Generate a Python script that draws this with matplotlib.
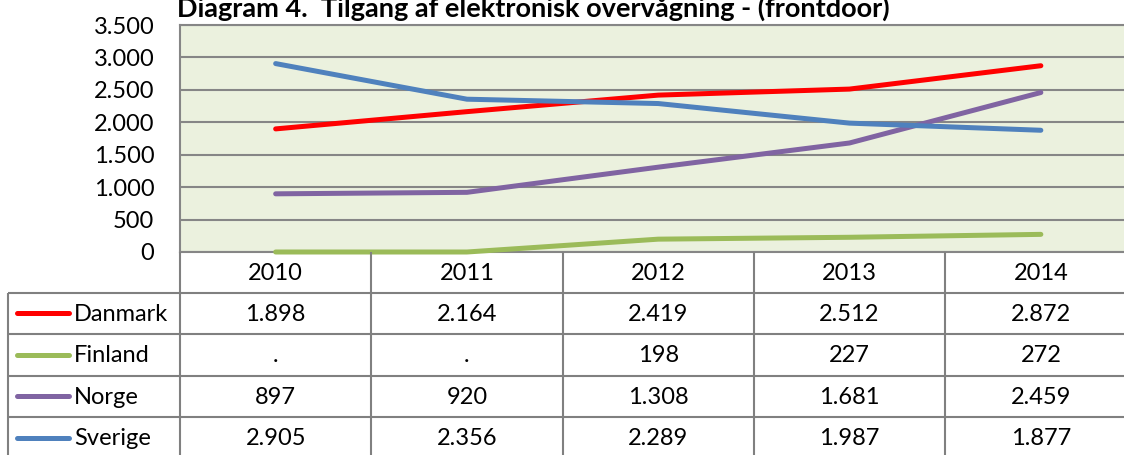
import numpy as np
import matplotlib
matplotlib.use("Agg")
import matplotlib.pyplot as plt

# --- data ---
years = ["2010", "2011", "2012", "2013", "2014"]
danmark = [1898, 2164, 2419, 2512, 2872]
finland = [np.nan, np.nan, 198, 227, 272]   # "." i tabellen, tegnes som 0
norge = [897, 920, 1308, 1681, 2459]
sverige = [2905, 2356, 2289, 1987, 1877]

series_names = ["Danmark", "Finland", "Norge", "Sverige"]
series_values = [danmark, finland, norge, sverige]
series_colors = ["#FF0000", "#9BBB59", "#8064A2", "#4F81BD"]

y_ticks = [0, 500, 1000, 1500, 2000, 2500, 3000, 3500]
title = "Diagram 4.  Tilgang af elektronisk overvågning - (frontdoor)"

FONT = "Lato"
FS = 17
W, H = 1124, 455
grid_col = "#868686"
bg_col = "#EBF1DE"


def fmt(v):
    if v is None or (isinstance(v, float) and np.isnan(v)):
        return "."
    return f"{int(v):,}".replace(",", ".")


fig = plt.figure(figsize=(W / 100, H / 100), dpi=100)

# pixel-kanter
plot_left, plot_right = 180, 1136.5
plot_top, plot_bottom = 25, 252
col_edges = np.linspace(plot_left, plot_right, len(years) + 1)
row_edges = [252, 292.5, 334, 375.5, 417, 458.5]
table_left = 8

ax = fig.add_axes([plot_left / W, 1 - plot_bottom / H,
                   (plot_right - plot_left) / W, (plot_bottom - plot_top) / H])
ax.set_facecolor(bg_col)
ax.set_xlim(-0.5, len(years) - 0.5)
ax.set_ylim(0, 3500)
ax.set_yticks(y_ticks)
ax.set_yticklabels([fmt(v) for v in y_ticks], fontsize=FS, family=FONT)
ax.set_xticks([])
ax.tick_params(axis="y", length=0, pad=18.5)
ax.grid(axis="y", color=grid_col, linewidth=1.5)
ax.set_axisbelow(True)
for s in ax.spines.values():
    s.set_color(grid_col)
    s.set_linewidth(1.5)

x = np.arange(len(years))
for name, vals, col in zip(series_names, series_values, series_colors):
    y = np.nan_to_num(np.array(vals, dtype=float), nan=0.0)
    ax.plot(x, y, color=col, linewidth=3.6, solid_capstyle="round",
            solid_joinstyle="round", zorder=3, clip_on=False)

# --- overlay i pixelkoordinater til titel og tabel ---
ov = fig.add_axes([0, 0, 1, 1], facecolor="none")
ov.set_xlim(0, W)
ov.set_ylim(H, 0)
ov.axis("off")

ov.text(177, 17, title, fontsize=19.5, fontweight="bold", family=FONT,
        ha="left", va="baseline")

line_kw = dict(color="#808080", linewidth=1.5, solid_capstyle="butt")
# lodrette linjer
for xe in col_edges:
    ov.plot([xe, xe], [row_edges[0], H + 5], **line_kw)
ov.plot([table_left, table_left], [row_edges[1], H + 5], **line_kw)
# vandrette linjer
for ye in row_edges[1:]:
    ov.plot([table_left, plot_right], [ye, ye], **line_kw)

# overskrift med årstal
for j, yr in enumerate(years):
    cx = (col_edges[j] + col_edges[j + 1]) / 2
    ov.text(cx, (row_edges[0] + row_edges[1]) / 2 + 1, yr, fontsize=FS,
            family=FONT, ha="center", va="center")

# rækker
for i, (name, vals, col) in enumerate(zip(series_names, series_values, series_colors)):
    cy = (row_edges[i + 1] + row_edges[i + 2]) / 2
    ov.plot([17, 69], [cy, cy], color=col, linewidth=3.6, solid_capstyle="round")
    ov.text(74, cy + 1, name, fontsize=FS, family=FONT, ha="left", va="center")
    for j, v in enumerate(vals):
        cx = (col_edges[j] + col_edges[j + 1]) / 2
        ov.text(cx, cy + 1, fmt(v), fontsize=FS, family=FONT,
                ha="center", va="center")

fig.savefig("out.png", dpi=100)
